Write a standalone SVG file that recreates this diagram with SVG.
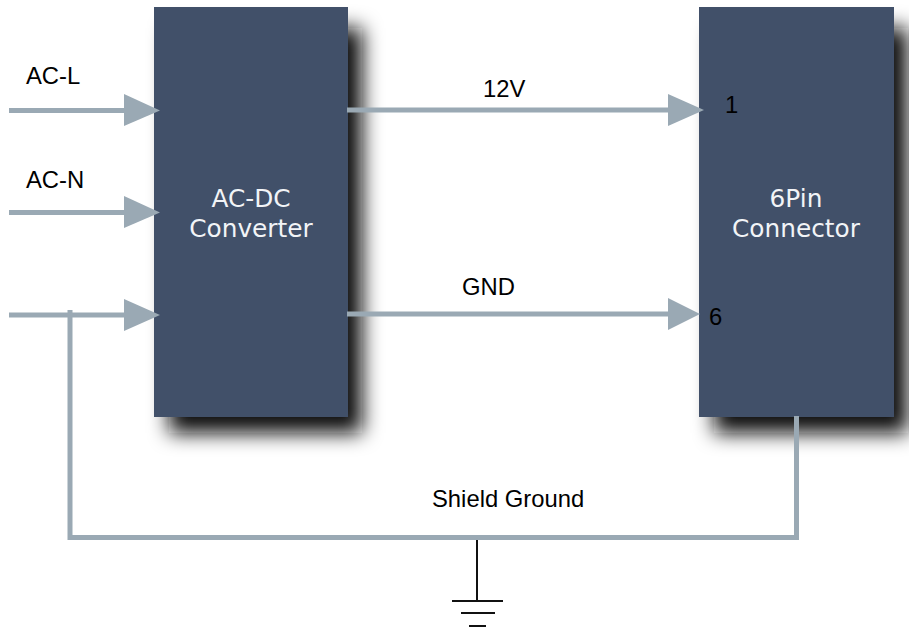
<svg xmlns="http://www.w3.org/2000/svg" width="909" height="630" viewBox="0 0 909 630">
<style>
.box{fill:#415069}
.shadow{fill:#111;filter:url(#blur)}
.wire{stroke:#9aa9b4;stroke-width:5;fill:none}
.head{fill:#9aa9b4}
.gnd{stroke:#111;stroke-width:2;fill:none}
text{font-family:"Liberation Sans",Arial,sans-serif;font-size:23.800px;fill:#000}
.inbox{font-family:"DejaVu Sans",Verdana,sans-serif;font-size:24.800px;fill:#f2f4f7;text-anchor:middle}
</style>
<defs>
<filter id="blur" x="-30%" y="-30%" width="160%" height="160%"><feGaussianBlur stdDeviation="10"/></filter>
</defs>
<rect width="909" height="630" fill="#fff"/>
<g id="converter">
<rect class="shadow" x="169" y="28" width="193" height="405"/>
<rect class="box" x="154" y="7" width="194" height="410"/>
<text class="inbox" x="251" y="207">AC-DC</text>
<text class="inbox" x="251" y="237">Converter</text>
</g>
<g id="connector">
<rect class="shadow" x="714" y="28" width="194" height="405"/>
<rect class="box" x="699" y="7" width="195" height="410"/>
<text class="inbox" x="796" y="207">6Pin</text>
<text class="inbox" x="796" y="237">Connector</text>
<text x="725" y="113">1</text>
<text x="709" y="325">6</text>
</g>
<g id="connectors">
<path class="wire" d="M9 110.500H126"/>
<polygon class="head" points="124,94 160,110.500 124,126"/>
<path class="wire" d="M9 212.500H126"/>
<polygon class="head" points="124,196 160,212.500 124,228"/>
<path class="wire" d="M9 315H126"/>
<polygon class="head" points="124,299 160,315 124,331"/>
<path class="wire" d="M347 110H670"/>
<polygon class="head" points="668,94 704,110 668,126"/>
<path class="wire" d="M347 314H670"/>
<polygon class="head" points="668,298 700,314 668,330"/>
<path class="wire" d="M70 310V537.500H796.500V416"/>
</g>
<g id="ground">
<path class="gnd" d="M477 540V601M452 601H503M461 613H495M469 626H486"/>
</g>
<g id="labels">
<text x="26" y="84">AC-L</text>
<text x="26" y="188">AC-N</text>
<text x="483" y="97">12V</text>
<text x="462" y="295">GND</text>
<text x="432" y="507">Shield Ground</text>
</g>
</svg>
